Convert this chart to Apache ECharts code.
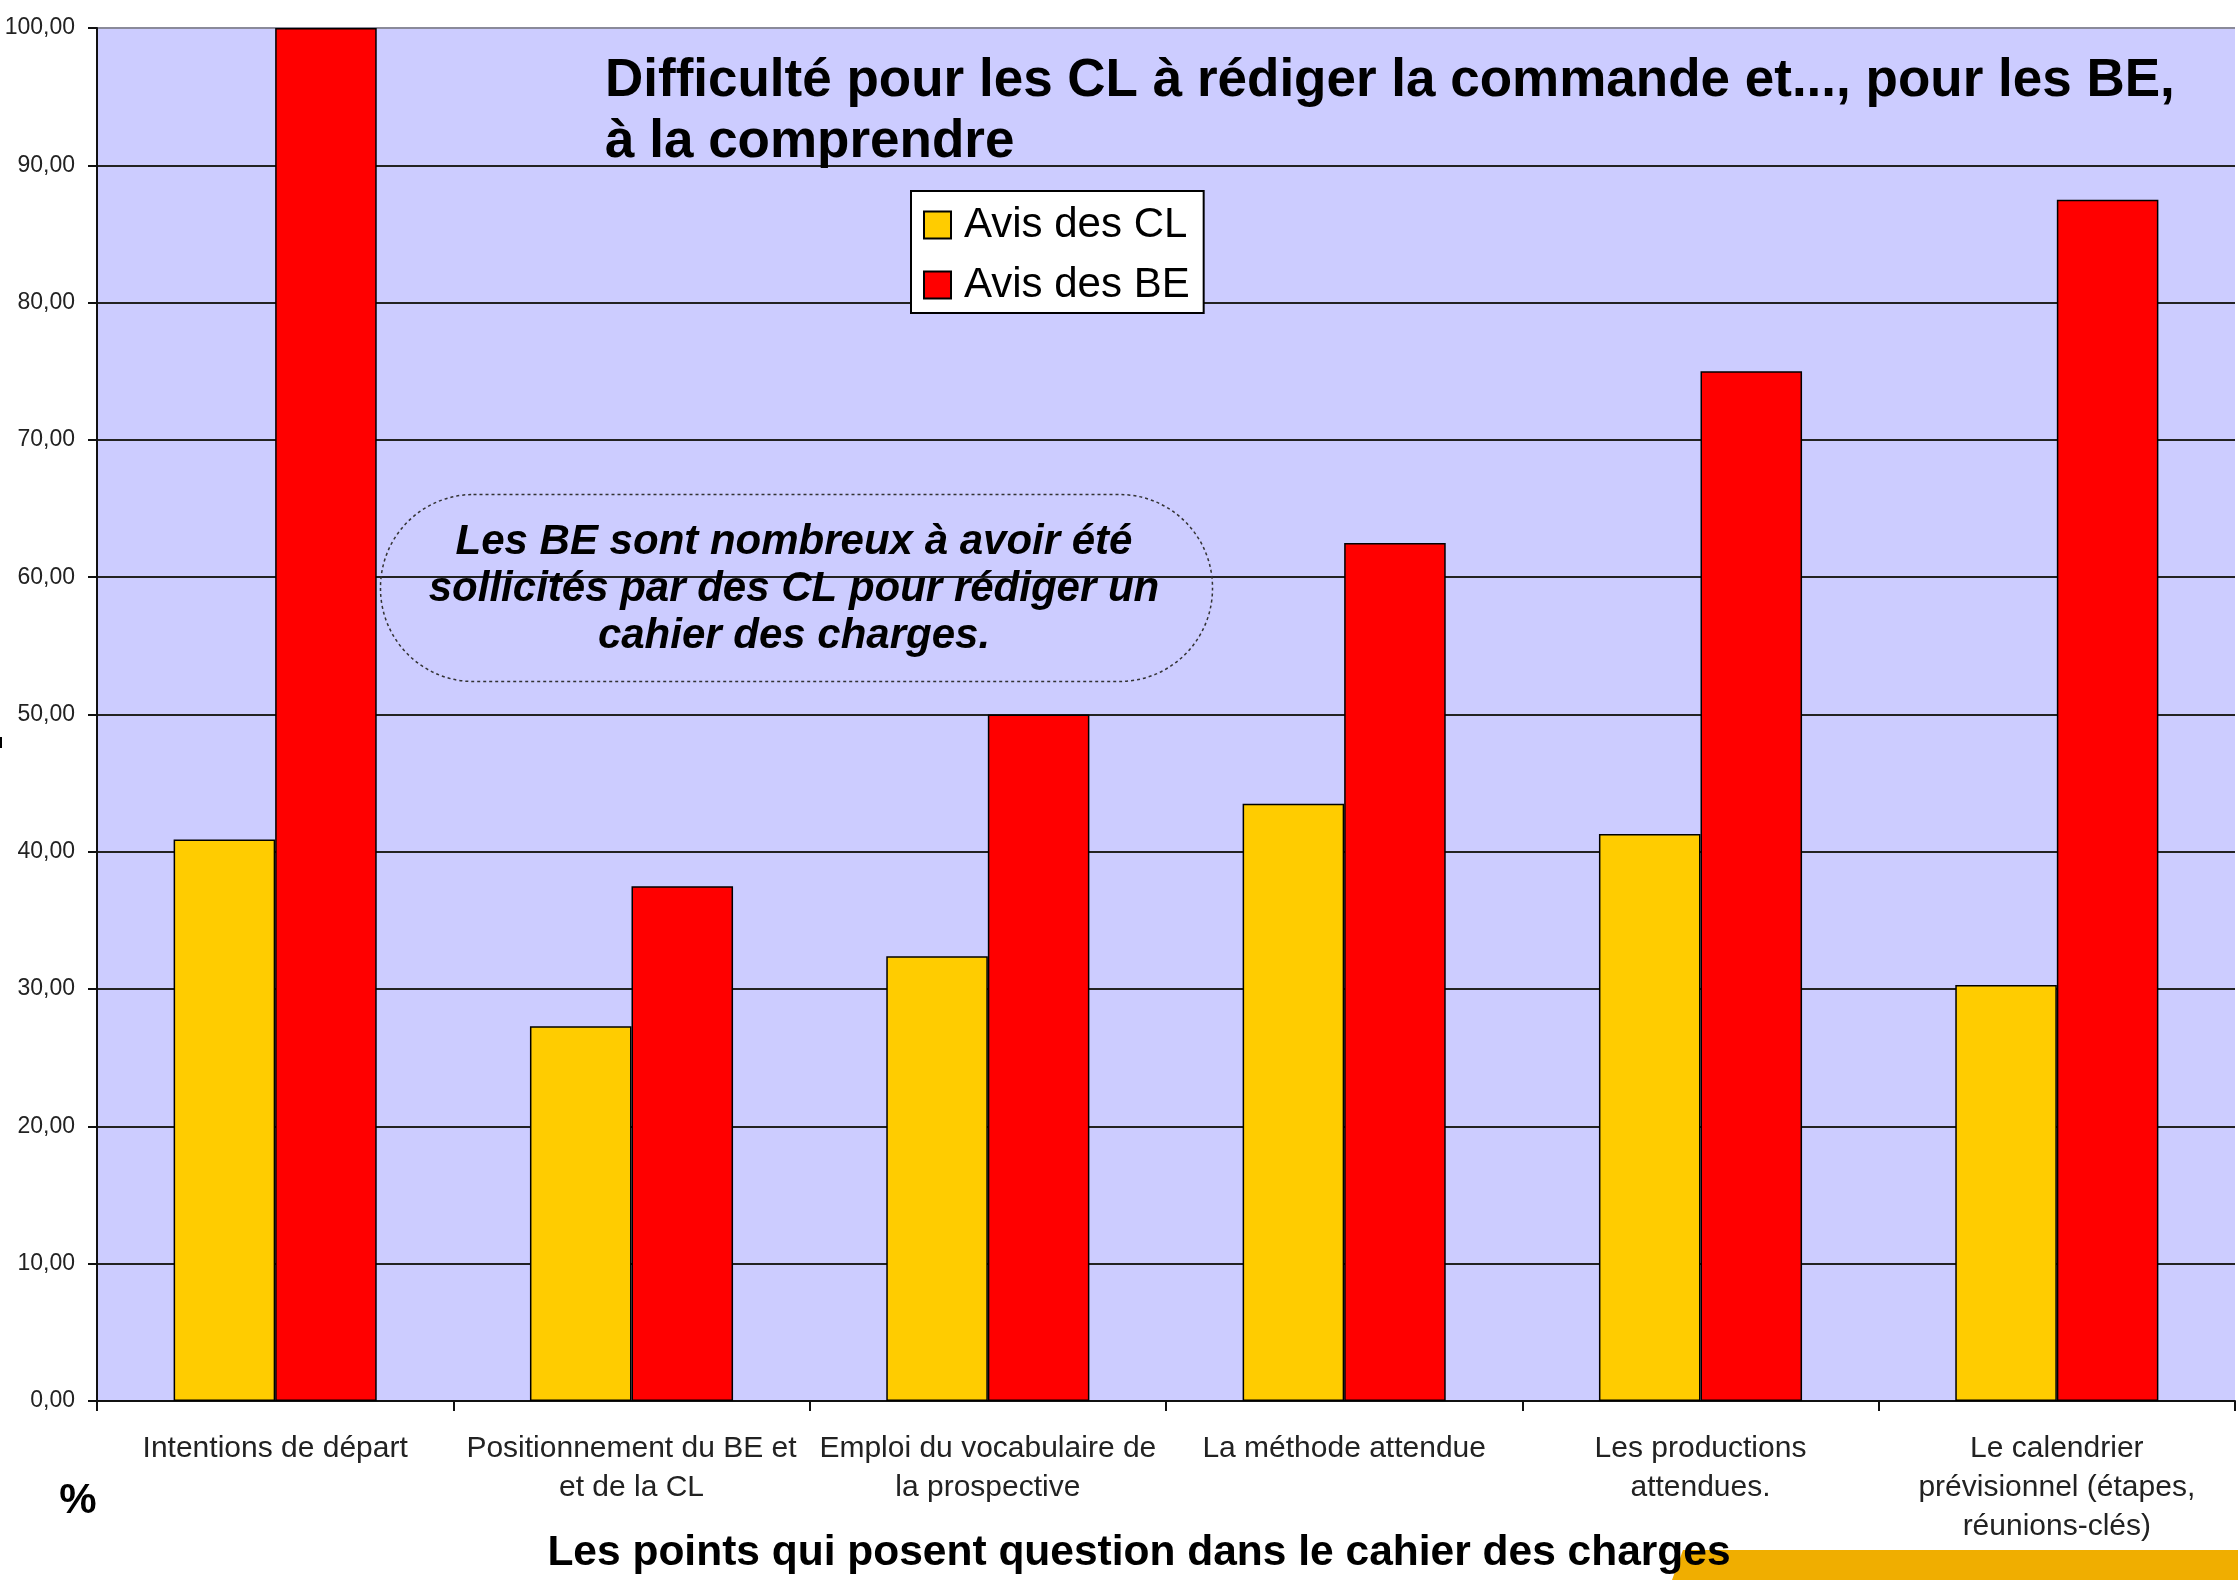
<!DOCTYPE html>
<html>
<head>
<meta charset="utf-8">
<title>Difficulté pour les CL à rédiger la commande</title>
<script src="https://cdn.jsdelivr.net/npm/echarts@6/dist/echarts.min.js"></script>
<style>
  html, body { margin: 0; padding: 0; background: #fff; }
  #chart { width: 2238px; height: 1587px; }
</style>
</head>
<body>
<div id="chart"></div>
<script>
/* ===== données ===== */
const categories = [
  "Intentions de départ",
  "Positionnement du BE et\net de la CL",
  "Emploi du vocabulaire de\nla prospective",
  "La méthode attendue",
  "Les productions\nattendues.",
  "Le calendrier\nprévisionnel (étapes,\nréunions-clés)",
];
const avisCL = [40.9, 27.3, 32.4, 43.5, 41.3, 30.3];
const avisBE = [100, 37.5, 50, 62.5, 75, 87.5];
const seriesNames = ["Avis des CL", "Avis des BE"];

const FONT = '"Liberation Sans", Arial, sans-serif';

const chart = echarts.init(document.getElementById("chart"));

chart.setOption({
  backgroundColor: "#ffffff",
  animation: false,

  title: {
    text: "Difficulté pour les CL à rédiger la commande et..., pour les BE,\nà la comprendre",
    left: 605,
    top: 51,
    padding: 0,
    textStyle: {
      fontFamily: FONT,
      fontSize: 53,
      fontWeight: "bold",
      lineHeight: 61,
      color: "#000",
    },
  },

  legend: {
    orient: "vertical",
    left: 911,
    top: 191,
    padding: [13, 14, 7, 12],
    itemGap: 18,
    itemWidth: 27,
    itemHeight: 27,
    icon: "rect",
    backgroundColor: "#ffffff",
    borderColor: "#000",
    borderWidth: 2,
    textStyle: {
      fontFamily: FONT,
      fontSize: 42,
      color: "#000",
      padding: [0, 0, 0, 8],
    },
    data: seriesNames,
  },

  grid: {
    left: 97,
    right: 3,
    top: 28,
    bottom: 186,
    show: true,
    backgroundColor: "#CCCCFF",
    borderWidth: 0,
  },

  xAxis: {
    type: "category",
    data: categories,
    axisLine: { lineStyle: { color: "#111", width: 2 } },
    axisTick: { show: true, alignWithLabel: false, length: 10, lineStyle: { color: "#111", width: 2 } },
    axisLabel: {
      interval: 0,
      margin: 28,
      fontFamily: FONT,
      fontSize: 30,
      lineHeight: 39,
      color: "#222",
      align: "center",
    },
  },

  yAxis: {
    type: "value",
    min: 0,
    max: 100,
    interval: 10,
    axisLine: { show: true, lineStyle: { color: "#111", width: 2 } },
    axisTick: { show: true, length: 9, lineStyle: { color: "#111", width: 2 } },
    axisLabel: {
      margin: 22,
      fontFamily: FONT,
      fontSize: 23,
      color: "#222",
      formatter: (v) => v.toFixed(2).replace(".", ","),
    },
    splitLine: {
      show: true,
      lineStyle: {
        width: 2,
        color: ["#222", "#222", "#222", "#222", "#222", "#222", "#222", "#222", "#222", "#222", "#8a8a9a"],
      },
    },
  },

  series: [
    {
      name: seriesNames[0],
      type: "bar",
      data: avisCL,
      barGap: "0%",
      barCategoryGap: "43%",
      itemStyle: { color: "#FFCC00", borderColor: "#000", borderWidth: 1.5 },
    },
    {
      name: seriesNames[1],
      type: "bar",
      data: avisBE,
      barGap: "0%",
      barCategoryGap: "43%",
      itemStyle: { color: "#FF0000", borderColor: "#000", borderWidth: 1.5 },
    },
  ],

  graphic: [
    /* bulle de commentaire */
    {
      type: "rect",
      left: 378,
      top: 492,
      shape: { width: 832, height: 187, r: 93 },
      style: { fill: "none", stroke: "#333", lineWidth: 1.5, lineDash: [3, 3] },
      z: 10,
    },
    {
      type: "text",
      x: 794,
      y: 589,
      style: {
        text: "Les BE sont nombreux à avoir été\nsollicités par des CL pour rédiger un\ncahier des charges.",
        fontFamily: FONT,
        fontSize: 42,
        fontWeight: "bold",
        fontStyle: "italic",
        lineHeight: 47,
        fill: "#000",
        align: "center",
        verticalAlign: "middle",
      },
      z: 11,
    },
    /* unité */
    {
      type: "text",
      x: 78,
      y: 1501,
      style: {
        text: "%",
        fontFamily: FONT,
        fontSize: 42,
        fontWeight: "bold",
        fill: "#000",
        align: "center",
        verticalAlign: "middle",
      },
    },
    /* bandeau orange */
    {
      type: "polygon",
      shape: { points: [[1683, 1550], [2238, 1550], [2238, 1580], [1672, 1580]] },
      style: { fill: "#F0AE00" },
      z: 1,
    },
    /* titre de l'axe des catégories */
    {
      type: "text",
      x: 1139,
      y: 1553,
      style: {
        text: "Les points qui posent question dans le cahier des charges",
        fontFamily: FONT,
        fontSize: 42.5,
        fontWeight: "bold",
        fill: "#000",
        align: "center",
        verticalAlign: "middle",
      },
      z: 5,
    },
    /* petit reste du titre vertical coupé */
    {
      type: "rect",
      shape: { x: 0, y: 737, width: 2, height: 11 },
      style: { fill: "#000" },
    },
  ],
});
</script>
</body>
</html>
